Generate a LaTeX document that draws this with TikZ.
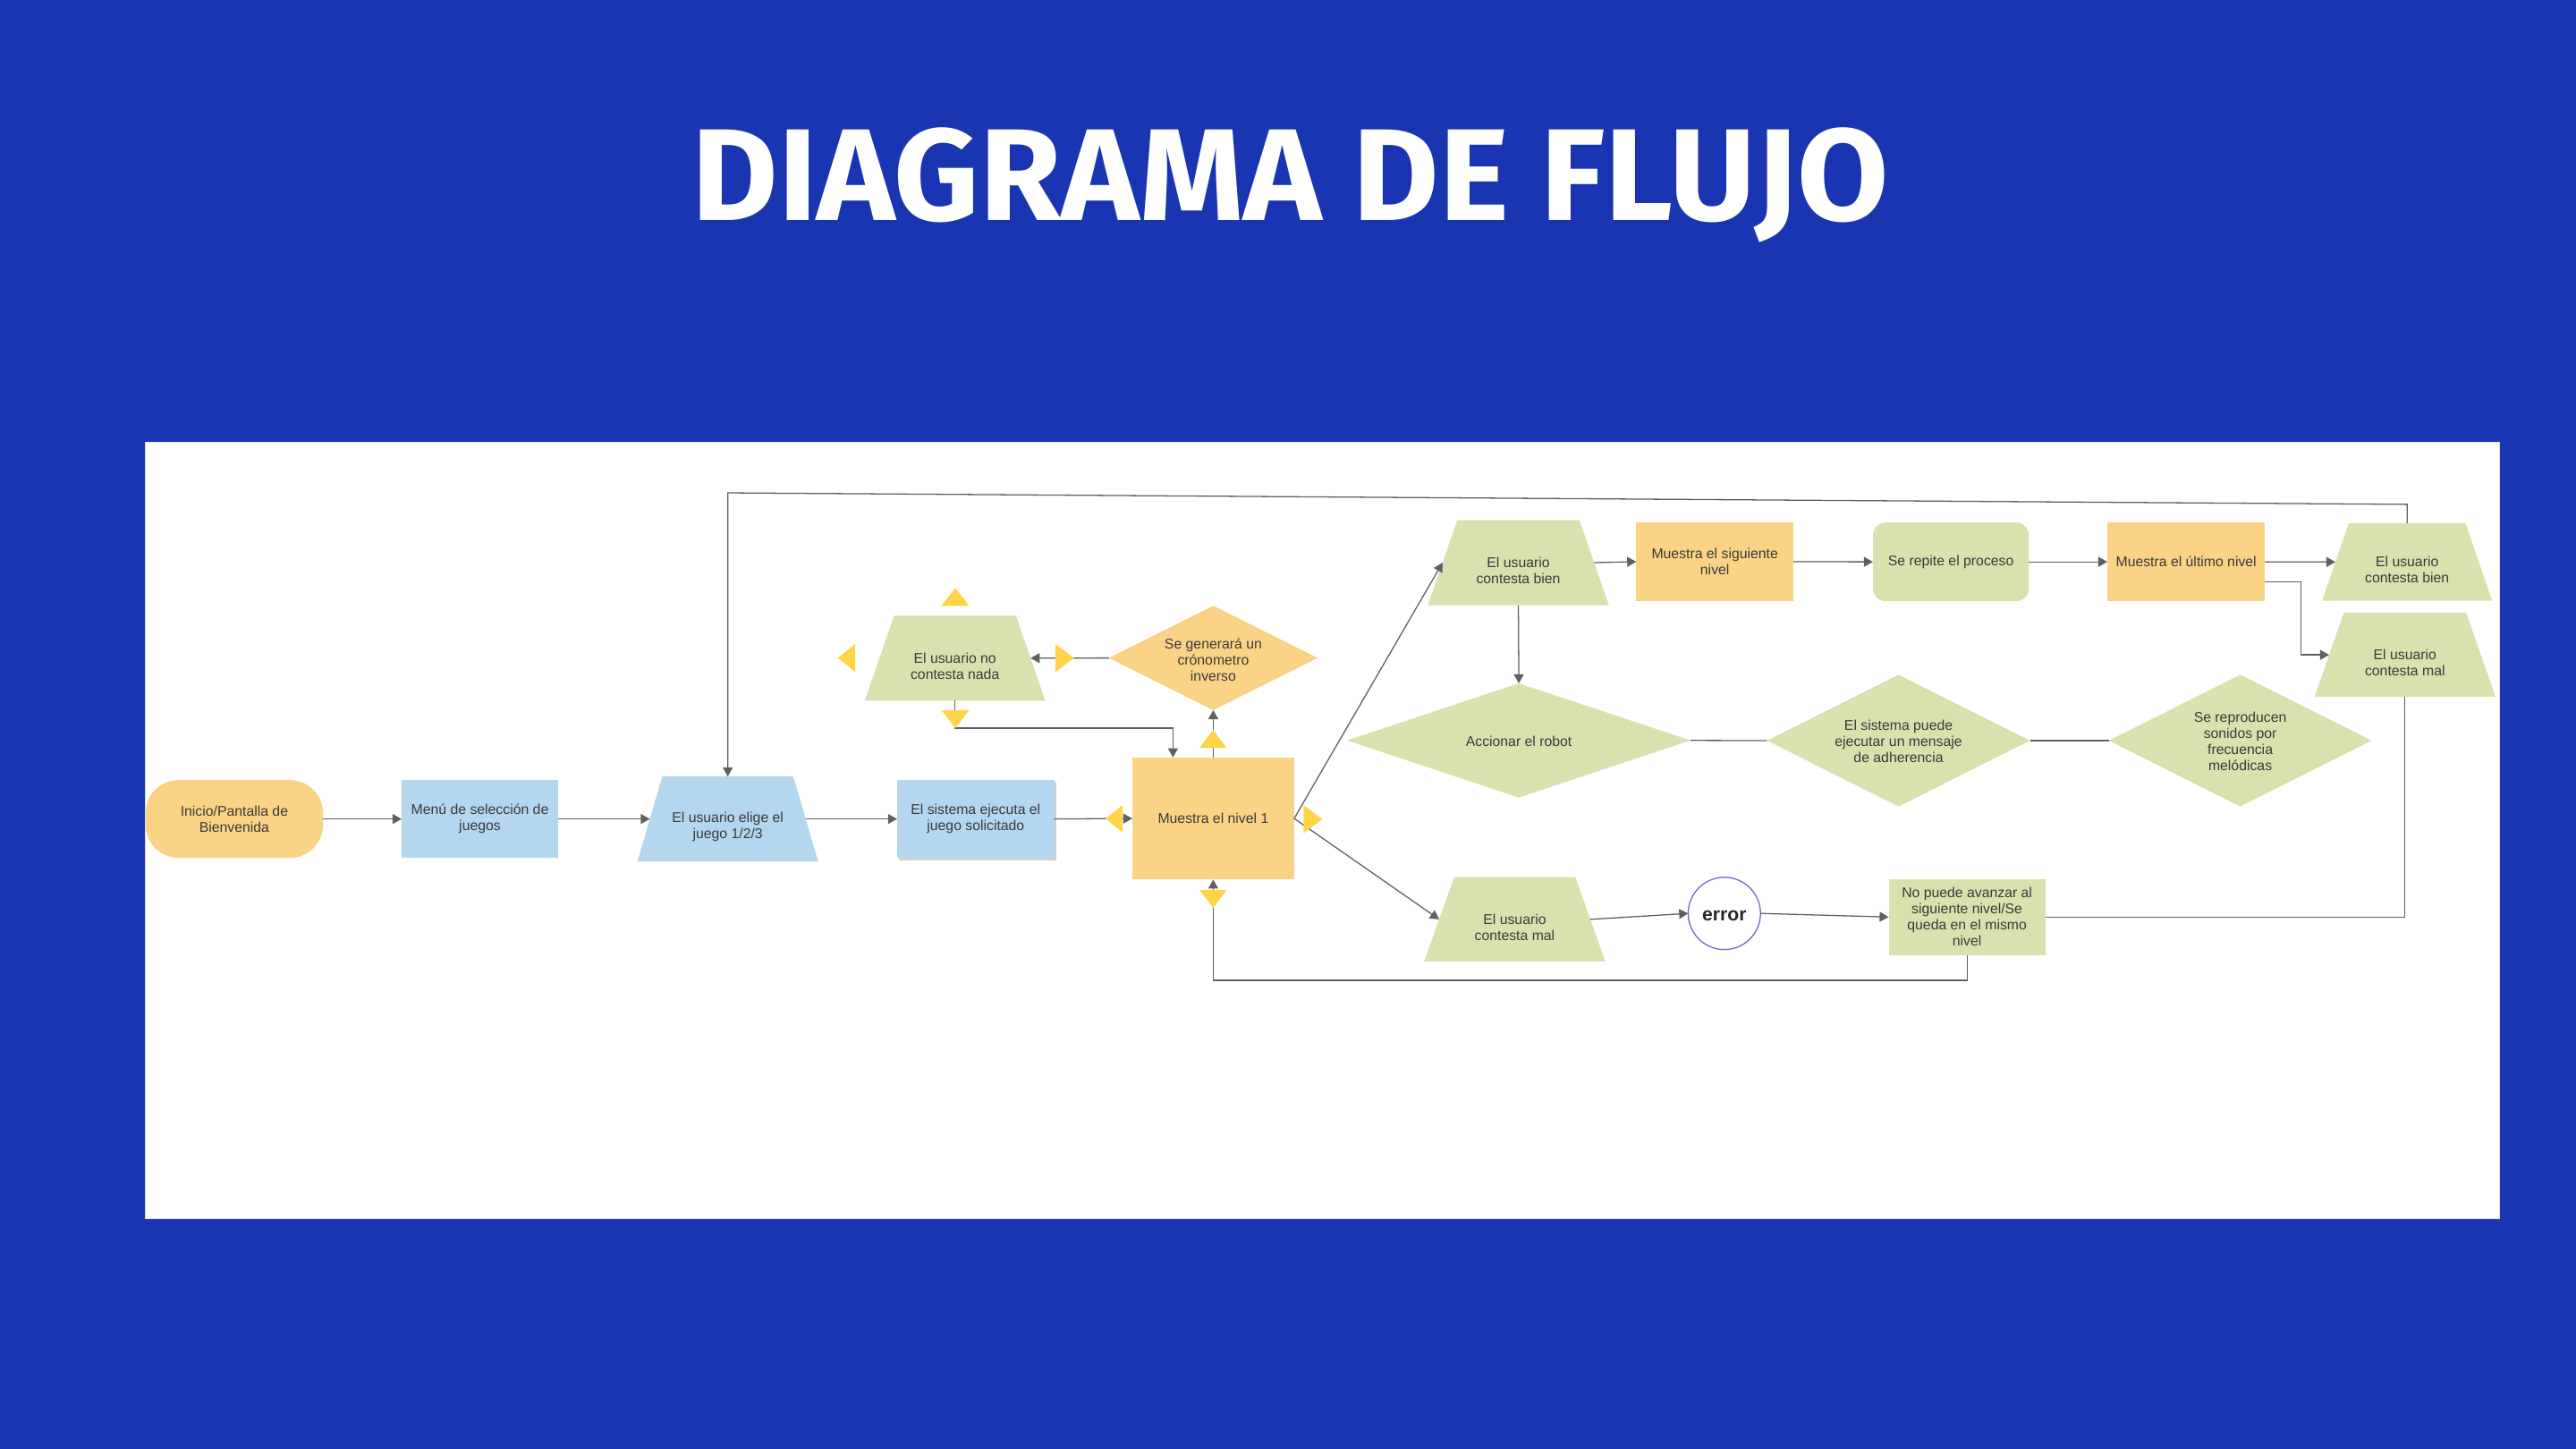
\documentclass[tikz,border=0pt]{standalone}
\usepackage{graphicx}
\usepackage{fontspec}
\setmainfont{Liberation Sans}
\newfontfamily\titlefont{Fira Sans}
\usetikzlibrary{shapes.geometric,arrows.meta,shadows}

\definecolor{bgblue}{RGB}{25,53,177}
\definecolor{forange}{RGB}{250,211,134}
\definecolor{fblue}{RGB}{180,214,238}
\definecolor{fgreen}{RGB}{216,226,175}
\definecolor{hyellow}{RGB}{255,212,72}
\definecolor{lgray}{RGB}{96,96,96}
\definecolor{tgray}{RGB}{58,58,58}
\definecolor{circcol}{RGB}{110,105,200}

\begin{document}
\begin{tikzpicture}[x=1pt,y=-1pt,
  every node/.style={inner sep=0pt, outer sep=0pt},
  txt/.style={font=\fontsize{8.6}{9.8}\selectfont, text=tgray, align=center},
  trap/.style={trapezium, trapezium stretches=true, trapezium left angle=#1, trapezium right angle=#1, draw=none},
  arr/.style={draw=lgray, line width=0.7pt, -{Triangle[length=5.5pt,width=6pt]}},
  ln/.style={draw=lgray, line width=0.7pt},
  handle/.style={fill=hyellow}
]
% background
\fill[bgblue] (0,0) rectangle (1568,882);
\useasboundingbox (0,0) rectangle (1568,882);
\draw[fill=white, draw=gray!25, line width=0.5pt] (88.2,269) rectangle (1521.2,741.6);

% title
\node[anchor=base, text=white] (title) at (785.4,134.3) {\resizebox{728pt}{56.5pt}{\titlefont\bfseries DIAGRAMA DE FLUJO}};

% main row
\node[rectangle, rounded corners=20pt, fill=forange, minimum width=108pt, minimum height=47.3pt, txt] (ini) at (142.6,498.5) {Inicio/Pantalla de\\Bienvenida};
\node[rectangle, fill=fblue, minimum width=95.3pt, minimum height=47.3pt, txt] (menu) at (292.1,498.5) {Menú de selección de\\juegos};
\node[trap=79.6, fill=fblue, minimum width=110pt, minimum height=51.7pt] (elige) at (443,498.5) {\phantom{X}};
\node[txt] (telige) at (443,503.5) {El usuario elige el\\juego 1/2/3};
\node[rectangle, fill=fblue, minimum width=95.7pt, minimum height=47.7pt, txt,
      drop shadow={shadow xshift=1.2pt, shadow yshift=-1.2pt, opacity=0.18, fill=black}] (sis) at (593.9,498.5) {El sistema ejecuta el\\juego solicitado};
\node[rectangle, fill=forange, minimum width=98.5pt, minimum height=74.4pt, txt] (m1) at (738.5,498.2) {Muestra el nivel 1};

% timer branch
\node[diamond, fill=forange, minimum width=127pt, minimum height=63.5pt] (gen) at (738.5,400.5) {};
\node[txt] (tgen) at (738.5,401.5) {Se generará un\\crónometro\\inverso};
\node[trap=76.9, fill=fgreen, minimum width=109.8pt, minimum height=51.7pt] (nc) at (581.3,400.6) {\phantom{X}};
\node[txt] (tnc) at (581.3,405.5) {El usuario no\\contesta nada};

% upper branch
\node[trap=76.9, fill=fgreen, minimum width=110.1pt, minimum height=51.7pt] (bien) at (924.2,342.5) {\phantom{X}};
\node[txt] (tbien) at (924.2,347.5) {El usuario\\contesta bien};
\node[rectangle, fill=forange, minimum width=95.7pt, minimum height=47.6pt, txt] (sig) at (1043.8,341.9) {Muestra el siguiente\\nivel};
\node[rectangle, rounded corners=8pt, fill=fgreen, minimum width=95pt, minimum height=48pt, txt] (rep) at (1187.5,342) {Se repite el proceso};
\node[rectangle, fill=forange, minimum width=96pt, minimum height=48pt, txt] (ult) at (1330.7,342) {Muestra el último nivel};
\node[trap=77.5, fill=fgreen, minimum width=103.6pt, minimum height=47.2pt] (bien2) at (1465.2,342.1) {\phantom{X}};
\node[txt] (tbien2) at (1465.2,346.8) {El usuario\\contesta bien};
\node[trap=76.9, fill=fgreen, minimum width=110.2pt, minimum height=51.3pt] (mal2) at (1463.9,398.6) {\phantom{X}};
\node[txt] (tmal2) at (1463.9,403.5) {El usuario\\contesta mal};

% diamonds row
\node[diamond, fill=fgreen, minimum width=209pt, minimum height=69.5pt] (acc) at (924.5,450.7) {};
\node[txt] (tacc) at (924.5,451.2) {Accionar el robot};
\node[diamond, fill=fgreen, minimum width=160pt, minimum height=80.2pt] (msj) at (1155.6,450.8) {};
\node[txt] (tmsj) at (1155.6,451.5) {El sistema puede\\ejecutar un mensaje\\de adherencia};
\node[diamond, fill=fgreen, minimum width=160pt, minimum height=80.2pt] (son) at (1363.6,450.8) {};
\node[txt] (tson) at (1363.6,451.5) {Se reproducen\\sonidos por\\frecuencia\\melódicas};

% lower branch
\node[trap=76.5, fill=fgreen, minimum width=110.3pt, minimum height=51.3pt] (cmal) at (922,559.6) {\phantom{X}};
\node[txt] (tcmal) at (922,564.5) {El usuario\\contesta mal};
\node[circle, draw=circcol, line width=0.7pt, fill=white, minimum size=44pt] (err) at (1049.6,556) {};
\node[font=\bfseries\fontsize{11.5}{12}\selectfont, text=black!85] (terr) at (1049.6,557.5) {error};
\node[rectangle, fill=fgreen, minimum width=95.4pt, minimum height=46.3pt, txt] (np) at (1197.3,558.2) {No puede avanzar al\\siguiente nivel/Se\\queda en el mismo\\nivel};

% connectors
\draw[arr] (ini.east) -- (menu.west);
\draw[arr] (menu.east) -- (elige.west);
\draw[arr] (elige.east) -- (sis.west);
\draw[arr] (sis.east) -- (m1.west);
\draw[arr] (m1.north) -- (gen.south);
\draw[arr] (gen.west) -- (nc.east);
\draw[arr] (nc.south) -- ++(0,16.8) -| ([xshift=-24.5pt]m1.north);
\draw[arr] (m1.east) -- (bien.west);
\draw[arr] (m1.east) -- (cmal.west);
\draw[arr] (bien.east) -- (sig.west);
\draw[arr] (sig.east) -- (rep.west);
\draw[arr] (rep.east) -- (ult.west);
\draw[arr] (ult.east) -- (bien2.west);
\draw[arr] ([yshift=-12pt]ult.east) -| ([xshift=-17pt]mal2.west) -- (mal2.west);
\coordinate (t1) at (1465.2,307);
\coordinate (t2) at (443,300);
\draw[arr] (bien2.north) -- (t1) -- (t2) -- (elige.north);
\draw[arr] (bien.south) -- (acc.north);
\draw[ln] (acc.east) -- (msj.west);
\draw[ln] (msj.east) -- (son.west);
\draw[arr] (cmal.east) -- (err.west);
\draw[arr] (err.east) -- (np.west);
\draw[ln] (mal2.south) |- (np.east);
\coordinate (b1) at (1197.3,596.7);
\draw[arr] (np.south) -- (b1) -| (m1.south);

% selection handles (yellow triangles)
\fill[handle] (683.3,490) -- (673,498.3) -- (683.3,506.7) -- cycle;
\fill[handle] (793.4,490) -- (804.9,498.6) -- (793.4,507.3) -- cycle;
\fill[handle] (730.1,455.2) -- (738.4,444.3) -- (746.7,455.2) -- cycle;
\fill[handle] (730.1,541.7) -- (738.4,552.6) -- (746.7,541.7) -- cycle;
\fill[handle] (573,368.8) -- (581.5,357.9) -- (590,368.8) -- cycle;
\fill[handle] (520.5,392) -- (510,400.5) -- (520.5,409) -- cycle;
\fill[handle] (642.5,392) -- (653.7,400.5) -- (642.5,409) -- cycle;
\fill[handle] (573,432.3) -- (581.5,443.2) -- (590,432.3) -- cycle;
\end{tikzpicture}
\end{document}
